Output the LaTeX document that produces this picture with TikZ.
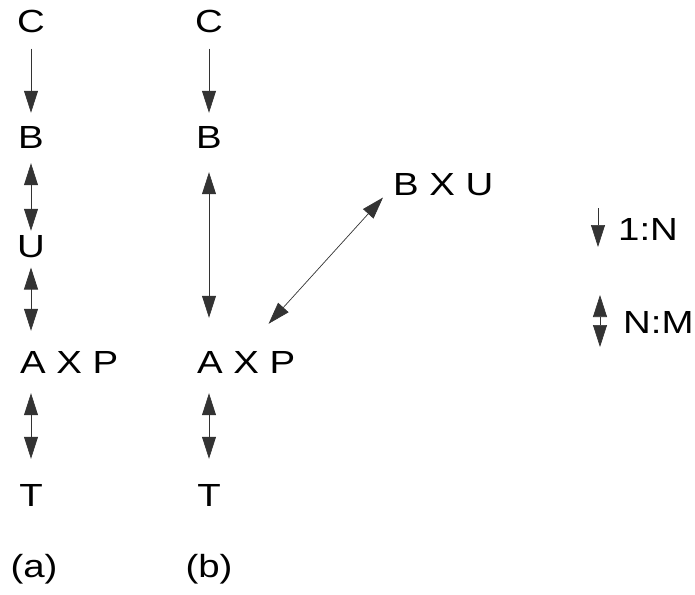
\documentclass[tikz,border=0pt]{standalone}
\usepackage{fontspec}
\setmainfont[FakeStretch=1.2]{Liberation Sans}
\usetikzlibrary{arrows.meta}
\begin{document}
\begin{tikzpicture}[x=1pt, y=-1pt, font=\fontsize{32}{38}\selectfont, line join=round, >={Triangle[length=22pt,width=14pt]},
	txt/.style={inner sep=0pt, anchor=base},
	row/.style={inner sep=0pt, anchor=base west},
	link/.style={line width=0.7pt, draw=black!80}]
	\useasboundingbox (0,0) rectangle (695,594);
	% (a)
	\node[txt] (c1) at (31,33) {C};
	\node[txt] (b1) at (31,148) {B};
	\node[txt] (u1) at (31,257) {U};
	\node[row] (axp1) at (20,373) {A X P};
	\node[txt] (t1) at (31,506) {T};
	\node[txt] (lab1) at (34,577) {(a)};
	\draw[link,->,shorten <=15pt,shorten >=13pt] (c1.south) -- (b1.north);
	\draw[link,<->,shorten <=15pt,shorten >=4pt] (b1.south) -- (u1.north);
	\draw[link,<->,shorten <=10pt,shorten >=20pt] (u1.south) -- (u1 |- axp1.north);
	\draw[link,<->,shorten <=20pt,shorten >=25pt] (axp1.south -| t1) -- (t1.north);
	% (b)
	\node[txt] (c2) at (209,33) {C};
	\node[txt] (b2) at (209,148) {B};
	\node[row] (axp2) at (197,373) {A X P};
	\node[txt] (t2) at (209,506) {T};
	\node[txt] (lab2) at (209,577) {(b)};
	\node[row] (bxu) at (393,195) {B X U};
	\draw[link,->,shorten <=15pt,shorten >=13pt] (c2.south) -- (b2.north);
	\draw[link,<->,shorten <=24pt,shorten >=33pt] (b2.south) -- (b2 |- axp2.north);
	\draw[link,<->,shorten <=20pt,shorten >=25pt] (axp2.south -| t2) -- (t2.north);
	\draw[link,<->] ([shift={(-27,-27)}]axp2.north east) -- ([shift={(-10,2)}]bxu.south west);
	% legend
	\node[row] (one) at (618,240) {1:N};
	\node[row] (many) at (623,333) {N:M};
	\draw[link,->] ([shift={(-20,-32)}]one.base west) -- ([shift={(-20,7)}]one.base west);
	\draw[link,<->] ([shift={(-23,-38)}]many.base west) -- ([shift={(-23,14)}]many.base west);
\end{tikzpicture}
\end{document}
